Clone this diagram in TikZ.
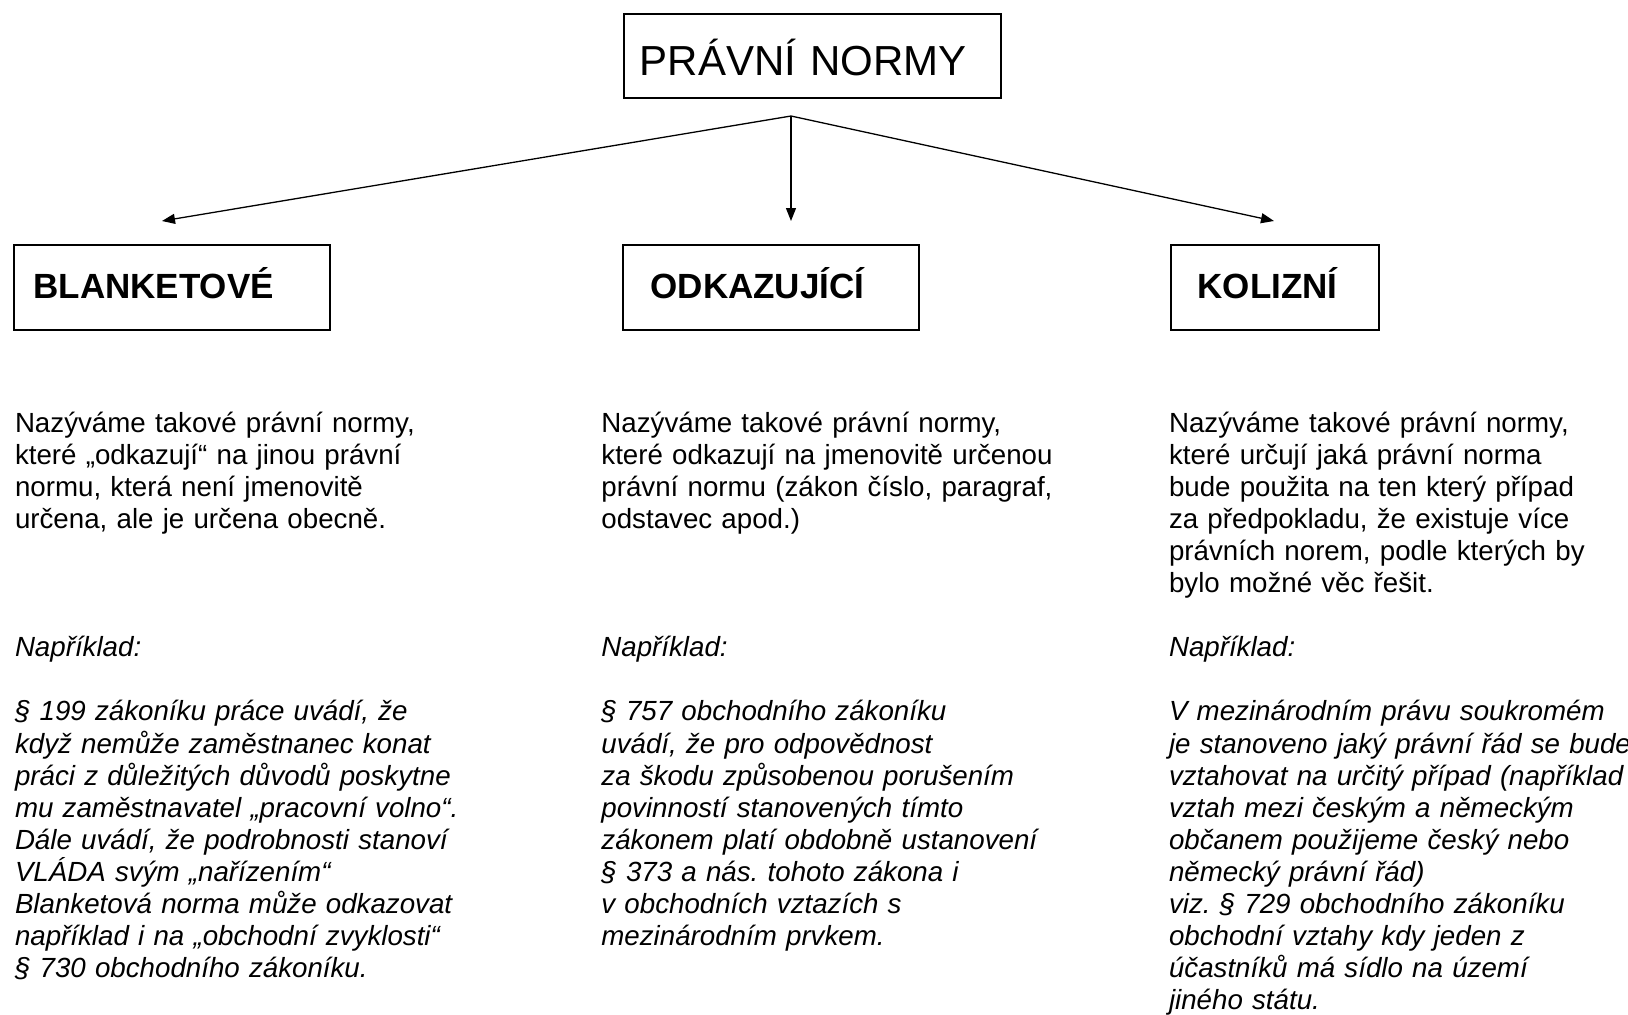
\documentclass[tikz,border=0pt]{standalone}
\usepackage{fontspec}
\setmainfont{Liberation Sans}
\usetikzlibrary{arrows.meta}
\frenchspacing

\begin{document}
\begin{tikzpicture}[x=0.5pt,y=-0.5pt,
  catbox/.style={draw,line width=1pt,anchor=north west,align=left,inner ysep=0pt,
    minimum height=42.25pt,text height=12.5pt,text depth=1.6pt,
    font=\fontsize{17.5pt}{21pt}\selectfont\bfseries},
  note/.style={anchor=base west,inner sep=0pt,text width=240pt,align=left,
    font=\fontsize{13.85pt}{16.05pt}\selectfont\frenchspacing},
  link/.style={line width=0.65pt,-{Triangle[length=6.5pt,width=5pt]}}]
  \useasboundingbox (0,0) rectangle (1628,1014);

  % Title box
  \node[draw,line width=1pt,anchor=north west,align=left,inner ysep=0pt,
    inner xsep=7.85pt,text width=172.8pt,minimum height=42pt,
    text height=19pt,text depth=0pt,font=\fontsize{21pt}{25pt}\selectfont]
    (norms) at (623,13) {PRÁVNÍ NORMY};

  % Three kinds
  \node[catbox,inner xsep=9.85pt,text width=138.3pt] (blanket) at (12.7,244) {BLANKETOVÉ};
  \node[catbox,inner xsep=14pt,text width=120.25pt] (odkaz) at (621.5,244) {ODKAZUJÍCÍ};
  \node[catbox,inner xsep=13.5pt,text width=77pt] (koliz) at (1169.5,244) {KOLIZNÍ};

  % Arrows from the fork point
  \coordinate (fork) at (791,116);
  \coordinate (toBlanket) at (162,221);
  \coordinate (toOdkaz) at (791,221);
  \coordinate (toKoliz) at (1274,221);
  \draw[link] (fork) -- (toBlanket);
  \draw[link] (fork) -- (toOdkaz);
  \draw[link] (fork) -- (toKoliz);

  % Descriptions
  \node[note] (blanketText) at (14.6,432) {Nazýváme takové právní normy,\\
    které „odkazují“ na jinou právní\\
    normu, která není jmenovitě\\
    určena, ale je určena obecně.\\[3\baselineskip]
    \itshape Například:\\[\baselineskip]
    § 199 zákoníku práce uvádí, že\\
    když nemůže zaměstnanec konat\\
    práci z důležitých důvodů poskytne\\
    mu zaměstnavatel „pracovní volno“.\\
    Dále uvádí, že podrobnosti stanoví\\
    VLÁDA svým „nařízením“\\
    Blanketová norma může odkazovat\\
    například i na „obchodní zvyklosti“\\
    § 730 obchodního zákoníku.};

  \node[note] (odkazText) at (601,432) {Nazýváme takové právní normy,\\
    které odkazují na jmenovitě určenou\\
    právní normu (zákon číslo, paragraf,\\
    odstavec apod.)\\[3\baselineskip]
    \itshape Například:\\[\baselineskip]
    § 757 obchodního zákoníku\\
    uvádí, že pro odpovědnost\\
    za škodu způsobenou porušením\\
    povinností stanovených tímto\\
    zákonem platí obdobně ustanovení\\
    § 373 a nás. tohoto zákona i\\
    v obchodních vztazích s\\
    mezinárodním prvkem.};

  \node[note] (kolizText) at (1168.6,432) {Nazýváme takové právní normy,\\
    které určují jaká právní norma\\
    bude použita na ten který případ\\
    za předpokladu, že existuje více\\
    právních norem, podle kterých by\\
    bylo možné věc řešit.\\[\baselineskip]
    \itshape Například:\\[\baselineskip]
    V mezinárodním právu soukromém\\
    je stanoveno jaký právní řád se bude\\
    vztahovat na určitý případ (například\\
    vztah mezi českým a německým\\
    občanem použijeme český nebo\\
    německý právní řád)\\
    viz. § 729 obchodního zákoníku\\
    obchodní vztahy kdy jeden z\\
    účastníků má sídlo na území\\
    jiného státu.};
\end{tikzpicture}
\end{document}
